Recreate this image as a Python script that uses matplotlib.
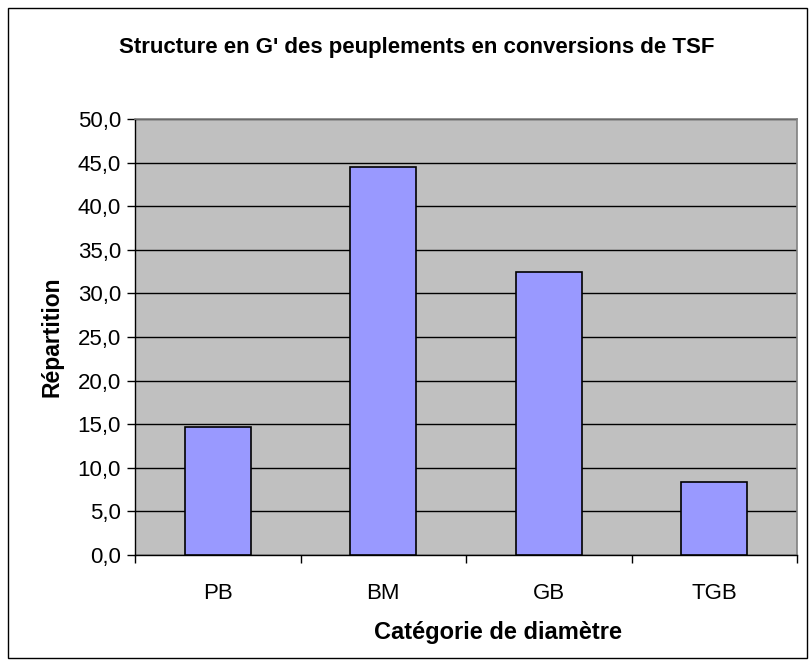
import matplotlib
matplotlib.use('Agg')
import matplotlib.pyplot as plt
from matplotlib.patches import Rectangle
from matplotlib.ticker import FuncFormatter

categories = ['PB', 'BM', 'GB', 'TGB']
repartition = [14.7, 44.5, 32.5, 8.4]

plt.rcParams['font.family'] = ['Liberation Sans', 'DejaVu Sans']

fig = plt.figure(figsize=(8.09, 6.66), dpi=100)

# cadre autour du graphique
fig.patches.append(Rectangle((8 / 809, 8 / 666), 799 / 809, 650 / 666, transform=fig.transFigure,
                             fill=False, edgecolor='black', linewidth=1.0))

ax = fig.add_axes([135 / 809, 111 / 666, 662 / 809, 436 / 666])
ax.set_facecolor('#C0C0C0')

x = range(len(categories))
ax.bar(x, repartition, width=0.4, color='#9999FF', edgecolor='black', linewidth=1.2, zorder=3)

ax.set_xlim(-0.5, len(categories) - 0.5)
ax.set_ylim(0, 50)
ax.set_yticks(range(0, 51, 5))
ax.yaxis.set_major_formatter(FuncFormatter(lambda v, p: f'{v:.1f}'.replace('.', ',')))
ax.yaxis.grid(True, color='black', linewidth=1.0, zorder=1)
ax.set_axisbelow(True)

ax.set_xticks([i for i in x])
ax.set_xticklabels(categories)
ax.set_xticks([i - 0.5 for i in range(len(categories) + 1)], minor=True)
ax.tick_params(axis='x', which='major', length=0, pad=20, labelsize=16)
ax.tick_params(axis='x', which='minor', length=6, width=1, direction='out')
ax.tick_params(axis='y', length=6, width=1, direction='out', labelsize=16, pad=4)

for s in ['top', 'right']:
    ax.spines[s].set_color('#808080')
    ax.spines[s].set_linewidth(1.2)
ax.spines['left'].set_linewidth(1.0)
ax.spines['bottom'].set_linewidth(1.0)

ax.set_xlabel('Catégorie de diamètre', fontsize=17, fontweight='bold', va='center')
ax.xaxis.set_label_coords((498 - 135) / 662, -(632 - 555) / 436)
ax.set_ylabel('Répartition', fontsize=16.5, fontweight='bold', labelpad=10)
fig.text(417 / 809, 1 - 47 / 666, "Structure en G' des peuplements en conversions de TSF",
         ha='center', va='center', fontsize=16, fontweight='bold')

fig.savefig('out.png', dpi=100)
